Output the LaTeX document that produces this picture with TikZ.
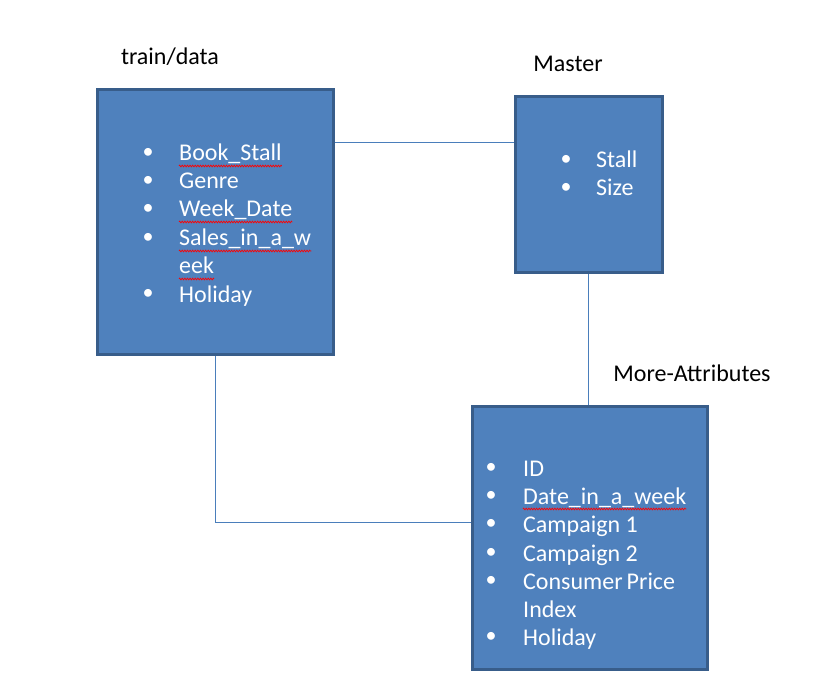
\documentclass[tikz,border=0pt]{standalone}
\usepackage{fontspec}
\setmainfont{Carlito}
\usetikzlibrary{decorations.pathmorphing}
\definecolor{boxfill}{HTML}{4F81BD}
\definecolor{boxline}{HTML}{385D8A}
\definecolor{linkc}{HTML}{4A7EBB}
\begin{document}
\begin{tikzpicture}[x=1pt,y=-1pt,
  box/.style={draw=boxline,line width=3pt,fill=boxfill,inner sep=0pt},
  link/.style={draw=linkc,line width=0.9pt},
  item/.style={anchor=base west,inner sep=0pt,text=white,font=\fontsize{24}{28}\selectfont},
  bul/.style={anchor=center,inner sep=0pt,text=white,font=\fontsize{22}{28}\selectfont},
  captext/.style={anchor=base,inner sep=0pt,text=black,font=\fontsize{24}{28}\selectfont},
  squig/.style={draw=red,line width=0.7pt,decorate,decoration={zigzag,amplitude=0.9pt,segment length=2.6pt}}]
\useasboundingbox (0,0) rectangle (817,687);
% boxes
\node[box,minimum width=236pt,minimum height=264pt] (train) at (215,222) {};
\node[box,minimum width=147pt,minimum height=176pt] (master) at (588.5,185) {};
\node[box,minimum width=235pt,minimum height=263pt] (more) at (589.5,537.5) {};
% captions
\node[captext] (ctrain) at (170,65) {train/data};
\node[captext] (cmaster) at (568,72) {Master};
\node[captext] (cmore) at (692,381) {More-Attributes};
% connectors
\coordinate (y1) at (0,142);
\coordinate (y3) at (0,522);
\draw[link] (train.east |- y1) -- (master.west |- y1);
\draw[link] (master.south) -- (master.south |- more.north);
\draw[link] (train.south) -- (train.south |- y3) -- (more.west |- y3);
% train/data items
\foreach \yy in {153,181,209,238,294} \node[bul] at (148,\yy) {•};
\node[item] (t1) at (179,161) {Book\_Stall};
\node[item] (t2) at (179,189) {Genre};
\node[item] (t3) at (179,217) {Week\_Date};
\node[item] (t4) at (179,246) {Sales\_in\_a\_w};
\node[item] (t5) at (179,274) {eek};
\node[item] (t6) at (179,302) {Holiday};
% master items
\foreach \yy in {160,188} \node[bul] at (566,\yy) {•};
\node[item] (m1) at (596,168) {Stall};
\node[item] (m2) at (596,196) {Size};
% more-attributes items
\foreach \yy in {468,496,524,553,581,637} \node[bul] at (491,\yy) {•};
\node[item] (a1) at (523,476) {ID};
\node[item] (a2) at (523,504) {Date\_in\_a\_week};
\node[item] (a3) at (523,532) {Campaign 1};
\node[item] (a4) at (523,561) {Campaign 2};
\node[item] (a5) at (523,589) {Consumer\,Price};
\node[item] (a6) at (523,617) {Index};
\node[item] (a7) at (523,645) {Holiday};
% spell-check underlines
\foreach \n in {t1,t3,t4,t5,a2}
  \draw[squig] ([yshift=-5pt]\n.base west) -- ([yshift=-5pt]\n.base east);
\end{tikzpicture}
\end{document}
